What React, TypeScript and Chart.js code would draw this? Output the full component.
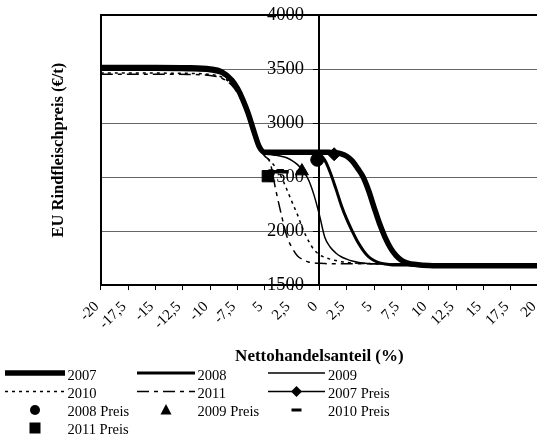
import React, { useEffect, useRef } from 'react';
import { Chart, registerables } from 'chart.js';

Chart.register(...registerables);

// Nettohandelsanteil (%) sample positions
const NET_TRADE_SHARE = [
  -20, -15, -12, -10, -9, -8, -7.5, -7, -6.5, -6, -5.5, -5, -4.5, -4, -3.5, -3, -2.5, -2, -1.5, -1, -0.5,
  0, 0.5, 1, 1.5, 2, 2.5, 3, 3.5, 4, 4.5, 5, 5.5, 6, 6.5, 7, 7.5, 8, 9, 10, 12, 15, 20,
];

// EU Rindfleischpreis (€/t) per year
const PRICE_2007 = [
  3515, 3515, 3512, 3500, 3478, 3395, 3320, 3215, 3085, 2925, 2780, 2730, 2730, 2730, 2730, 2730, 2730, 2730, 2730, 2730, 2730,
  2730, 2730, 2728, 2725, 2715, 2693, 2650, 2580, 2500, 2375, 2220, 2070, 1945, 1845, 1775, 1730, 1706, 1688, 1681, 1678, 1678, 1678,
];
const PRICE_2008 = [
  3505, 3505, 3502, 3490, 3468, 3388, 3315, 3210, 3080, 2920, 2775, 2728, 2728, 2728, 2728, 2728, 2728, 2728, 2728, 2728, 2725,
  2712, 2655, 2540, 2395, 2240, 2110, 2000, 1900, 1822, 1762, 1727, 1706, 1695, 1689, 1686, 1685, 1685, 1684, 1684, 1684, 1684, 1684,
];
const PRICE_2009 = [
  3488, 3488, 3485, 3475, 3452, 3375, 3300, 3198, 3070, 2912, 2772, 2718, 2708, 2702, 2693, 2678, 2652, 2615, 2557, 2475, 2335,
  2150, 1940, 1850, 1797, 1762, 1740, 1722, 1711, 1704, 1700, 1697, 1695, 1694, 1693, 1692, 1692, 1692, 1692, 1692, 1692, 1692, 1692,
];
const PRICE_2010 = [
  3462, 3462, 3460, 3450, 3428, 3355, 3285, 3185, 3058, 2900, 2768, 2700, 2650, 2590, 2505, 2390, 2268, 2150, 2015, 1910, 1828,
  1782, 1756, 1740, 1727, 1717, 1710, 1705, 1702, 1700, 1699, 1698, 1697, 1696, 1696, 1696, 1696, 1696, 1696, 1696, 1696, 1696, 1696,
];
const PRICE_2011 = [
  3452, 3452, 3450, 3440, 3418, 3348, 3278, 3180, 3052, 2895, 2765, 2695, 2630, 2385, 2160, 1958, 1845, 1770, 1736, 1714, 1705,
  1701, 1699, 1698, 1697, 1697, 1697, 1697, 1697, 1697, 1697, 1697, 1697, 1697, 1697, 1697, 1697, 1697, 1697, 1697, 1697, 1697, 1697,
];

// Observed prices (x = Nettohandelsanteil, y = Preis)
const PREIS_2007 = [{ x: 1.35, y: 2711 }];
const PREIS_2008 = [{ x: -0.2, y: 2660 }];
const PREIS_2009 = [{ x: -1.6, y: 2555 }];
const PREIS_2010 = [{ x: -3.5, y: 2550 }];
const PREIS_2011 = [{ x: -4.72, y: 2508 }];

const X_TICK_VALUES = [-20, -17.5, -15, -12.5, -10, -7.5, -5, -2.5, 0, 2.5, 5, 7.5, 10, 12.5, 15, 17.5, 20];
const X_TICK_LABELS = ['-20', '-17,5', '-15', '-12,5', '-10', '-7,5', '5', '2,5', '0', '2,5', '5', '7,5', '10', '12,5', '15', '17,5', '20'];
const Y_TICK_VALUES = [1500, 2000, 2500, 3000, 3500, 4000];
const Y_TICK_LABELS = ['1500', '2000', '2500', '3000', '3500', '4000'];

const FONT = '"Liberation Serif", "Times New Roman", serif';

function curve(label: string, ys: number[], width: number, dash: number[], order: number) {
  return {
    type: 'line' as const,
    label,
    data: NET_TRADE_SHARE.map((x, i) => ({ x, y: ys[i] })),
    borderColor: '#000',
    backgroundColor: '#000',
    borderWidth: width,
    borderDash: dash,
    pointRadius: 0,
    pointHoverRadius: 0,
    fill: false,
    cubicInterpolationMode: 'monotone' as const,
    order,
  };
}

function marker(label: string, pts: { x: number; y: number }[], style: string, radius: number, bw: number) {
  return {
    type: 'line' as const,
    label,
    data: pts,
    showLine: false,
    pointStyle: style,
    pointRadius: radius,
    pointHoverRadius: radius,
    pointBackgroundColor: '#000',
    pointBorderColor: '#000',
    pointBorderWidth: bw,
    order: 0,
  };
}

function Legend() {
  const colX = [5, 137, 268];
  const colEnd = [65, 195, 325];
  const textX = [67.5, 197.5, 328];
  const rowY = [373, 391.5, 410, 428];
  const baseY = [380, 398, 416, 434];
  const lineEl = (c: number, r: number, w: number, dash?: string) => (
    <line x1={colX[c]} x2={colEnd[c]} y1={rowY[r]} y2={rowY[r]} stroke="#000" strokeWidth={w} strokeDasharray={dash} />
  );
  const cx = (c: number) => (colX[c] + colEnd[c]) / 2;
  const text = (c: number, r: number, s: string) => (
    <text x={textX[c]} y={baseY[r]} fontFamily={FONT} fontSize={14.5} fill="#000">{s}</text>
  );
  return (
    <svg width={537} height={435} style={{ position: 'absolute', left: 0, top: 0, pointerEvents: 'none' }}>
      {lineEl(0, 0, 5.5)}{text(0, 0, '2007')}
      {lineEl(1, 0, 3)}{text(1, 0, '2008')}
      {lineEl(2, 0, 1.5)}{text(2, 0, '2009')}
      {lineEl(0, 1, 1.5, '3 4')}{text(0, 1, '2010')}
      {lineEl(1, 1, 1.5, '12 5 4 5')}{text(1, 1, '2011')}
      {lineEl(2, 1, 1.5)}
      <polygon points={`${cx(2)},${rowY[1] - 5.5} ${cx(2) + 5.5},${rowY[1]} ${cx(2)},${rowY[1] + 5.5} ${cx(2) - 5.5},${rowY[1]}`} fill="#000" />
      {text(2, 1, '2007 Preis')}
      <circle cx={cx(0)} cy={rowY[2]} r={5} fill="#000" />{text(0, 2, '2008 Preis')}
      <polygon points={`${cx(1)},${rowY[2] - 6} ${cx(1) + 5.5},${rowY[2] + 4.5} ${cx(1) - 5.5},${rowY[2] + 4.5}`} fill="#000" />{text(1, 2, '2009 Preis')}
      <rect x={cx(2) - 5} y={rowY[2] - 1.5} width={10} height={3} fill="#000" />{text(2, 2, '2010 Preis')}
      <rect x={cx(0) - 5.5} y={rowY[3] - 5.5} width={11} height={11} fill="#000" />{text(0, 3, '2011 Preis')}
    </svg>
  );
}

export default function App() {
  const ref = useRef<HTMLCanvasElement | null>(null);
  useEffect(() => {
    if (!ref.current) return;
    Chart.defaults.font.family = FONT;
    Chart.defaults.color = '#000';
    const chart = new Chart(ref.current, {
      type: 'line',
      data: {
        datasets: [
          marker('2007 Preis', PREIS_2007, 'rectRot', 6.5, 1),
          marker('2008 Preis', PREIS_2008, 'circle', 6.5, 1),
          marker('2009 Preis', PREIS_2009, 'triangle', 7.5, 1),
          marker('2010 Preis', PREIS_2010, 'line', 7.5, 3.5),
          marker('2011 Preis', PREIS_2011, 'rect', 8, 1),
          curve('2007', PRICE_2007, 5.5, [], 1),
          curve('2008', PRICE_2008, 3, [], 2),
          curve('2009', PRICE_2009, 1.5, [], 3),
          curve('2010', PRICE_2010, 1.5, [3, 4], 4),
          curve('2011', PRICE_2011, 1.5, [12, 5, 4, 5], 5),
        ] as any,
      },
      options: {
        responsive: false,
        animation: false,
        devicePixelRatio: 1,
        layout: { padding: { left: 40, top: 15, right: 0, bottom: 3.5 } },
        plugins: { legend: { display: false }, tooltip: { enabled: false } },
        scales: {
          x: {
            type: 'linear',
            min: -20,
            max: 20,
            afterBuildTicks: (s: any) => { s.ticks = X_TICK_VALUES.map((v) => ({ value: v })); },
            afterFit: (s: any) => { s.paddingRight = 0; },
            ticks: {
              autoSkip: false,
              minRotation: 45,
              maxRotation: 45,
              padding: 8,
              labelOffset: -4,
              font: { size: 15 },
              color: '#000',
              callback: (v: any) => X_TICK_LABELS[X_TICK_VALUES.indexOf(Number(v))],
            },
            grid: { drawOnChartArea: false, drawTicks: true, tickLength: 5, tickColor: '#000', tickWidth: 1 },
            border: { display: true, color: '#000', width: 2 },
            title: {
              display: true,
              text: 'Nettohandelsanteil (%)',
              color: '#000',
              font: { size: 17, weight: 'bold' },
              padding: { top: 5.2, bottom: 0 },
            },
          },
          y: {
            type: 'linear',
            position: { x: 0 } as any,
            min: 1500,
            max: 4000,
            afterBuildTicks: (s: any) => { s.ticks = Y_TICK_VALUES.map((v) => ({ value: v })); },
            ticks: { display: false },
            grid: {
              drawOnChartArea: true,
              drawTicks: true,
              tickLength: 5,
              tickColor: '#000',
              color: (c: any) => (c.tick && (c.tick.value === 4000 || c.tick.value === 1500) ? '#000' : '#666'),
              lineWidth: (c: any) => (c.tick && c.tick.value === 4000 ? 2 : 1),
            },
            border: { display: true, color: '#000', width: 2 },
          },
          yLabels: {
            type: 'linear',
            position: { x: -1.4 } as any,
            min: 1500,
            max: 4000,
            afterBuildTicks: (s: any) => { s.ticks = Y_TICK_VALUES.map((v) => ({ value: v })); },
            ticks: {
              padding: 0,
              font: { size: 18.5 },
              color: '#000',
              callback: (v: any) => Y_TICK_LABELS[Y_TICK_VALUES.indexOf(Number(v))],
            },
            grid: { display: false, drawOnChartArea: false, drawTicks: false },
            border: { display: false },
          },
          y2: {
            type: 'linear',
            position: 'left',
            min: 1500,
            max: 4000,
            ticks: { display: false },
            grid: { drawOnChartArea: false, drawTicks: false },
            border: { display: true, color: '#000', width: 2 },
            title: {
              display: true,
              text: 'EU Rindfleischpreis (€/t)',
              color: '#000',
              font: { size: 16.5, weight: 'bold' },
              padding: { top: 9, bottom: 32 },
            },
          },
        },
      } as any,
    });
    return () => chart.destroy();
  }, []);
  return (
    <div style={{ position: 'fixed', left: 0, top: 0, width: 537, height: 435, background: '#fff', overflow: 'hidden' }}>
      <canvas ref={ref} width={549} height={370} style={{ position: 'absolute', left: 0, top: 0 }} />
      <Legend />
    </div>
  );
}
